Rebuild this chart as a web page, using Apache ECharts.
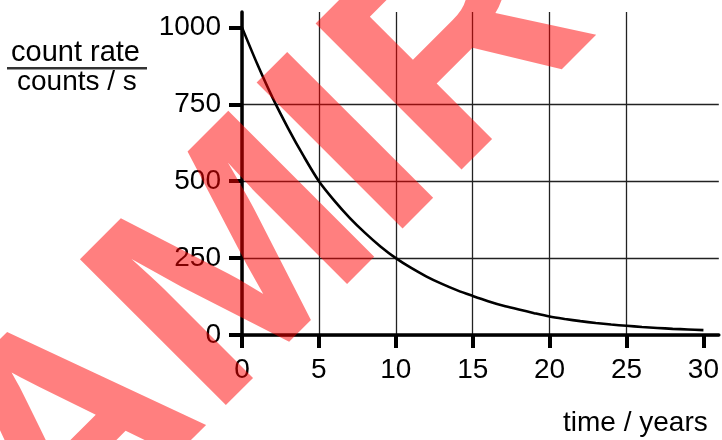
<!DOCTYPE html>
<html>
<head>
<meta charset="utf-8">
<script src="https://cdn.jsdelivr.net/npm/echarts@6/dist/echarts.min.js"></script>
<style>
  html, body { margin: 0; padding: 0; background: #fff; }
  #chart { width: 722px; height: 440px; }
</style>
</head>
<body>
<div id="chart"></div>
<script>
// values
const years = [0, 1, 2, 3, 4, 5, 6, 7, 8, 9, 10, 11, 12, 13, 14, 15, 16, 17, 18, 19, 20, 21, 22, 23, 24, 25, 26, 27, 28, 29, 30];
const countRate = [1000, 880, 770, 672, 582, 500, 437, 381, 332, 288, 250, 218, 190, 166, 145, 127, 110, 95, 83, 71, 60, 52, 45, 39, 34, 30, 26, 23, 20, 18, 16];
const xTicks = [0, 5, 10, 15, 20, 25, 30];
const yTicks = [0, 250, 500, 750, 1000];

const font = 'Liberation Sans, Arial, sans-serif';
const chart = echarts.init(document.getElementById('chart'));

const option = {
  animation: false,
  grid: { left: 242, right: 1, top: 12, bottom: 105 },
  xAxis: {
    type: 'value',
    min: 0,
    max: 31,
    axisLine: { show: true, onZero: false, lineStyle: { color: '#000', width: 3.5 } },
    axisTick: { show: true, length: 13, customValues: xTicks, lineStyle: { color: '#000', width: 4 } },
    axisLabel: {
      customValues: xTicks, margin: 21, color: '#000', fontSize: 28, fontFamily: font,
      formatter: v => String(v)
    },
    splitLine: { show: true, showMaxLine: false, lineStyle: { color: '#222', width: 1.3 } }
  },
  yAxis: {
    type: 'value',
    min: 0,
    max: 1050,
    axisLine: { show: true, onZero: false, lineStyle: { color: '#000', width: 3.5 } },
    axisTick: { show: true, length: 13, customValues: yTicks, lineStyle: { color: '#000', width: 4 } },
    axisLabel: {
      customValues: yTicks, margin: 21, color: '#000', fontSize: 28, fontFamily: font,
      formatter: v => String(v)
    },
    splitLine: { show: true, showMaxLine: false, lineStyle: { color: '#222', width: 1.3 } }
  },
  series: [{
    type: 'line',
    data: years.map((t, i) => [t, countRate[i]]),
    smooth: 0.3,
    showSymbol: false,
    lineStyle: { color: '#000', width: 2.6 },
    z: 3
  }],
  graphic: [
    {
      type: 'text', left: 11, top: 38,
      style: { text: 'count rate', font: '29px ' + font, fill: '#000' }
    },
    {
      type: 'rect', shape: { x: 7, y: 67, width: 140, height: 2.5 },
      style: { fill: '#333' }
    },
    {
      type: 'text', left: 17, top: 68,
      style: { text: 'counts / s', font: '28px ' + font, fill: '#000' }
    },
    {
      type: 'text', left: 563, top: 409,
      style: { text: 'time / years', font: '28px ' + font, fill: '#000' }
    },
    {
      // watermark
      type: 'text', x: 0, y: 514, z: 100,
      rotation: Math.PI / 4,
      style: {
        text: 'AMIR',
        font: 'bold 300px ' + font,
        fill: 'rgba(255,0,0,0.5)',
        align: 'left',
        verticalAlign: 'middle'
      }
    }
  ]
};

chart.setOption(option);
</script>
</body>
</html>
